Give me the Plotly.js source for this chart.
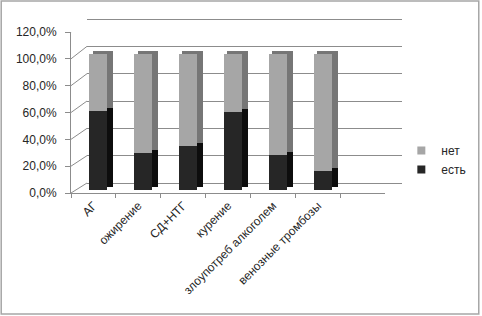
<!DOCTYPE html>
<html><head><meta charset="utf-8">
<script src="https://cdn.plot.ly/plotly-3.0.1.min.js"></script>
<style>html,body{margin:0;padding:0;background:#fff}#chart{width:482px;height:316px}</style>
</head><body><div id="chart"></div>
<script>
// ---- data ----
const categories = ['АГ', 'ожирение', 'СД+НТГ', 'курение', 'злоупотреб алкоголем', 'венозные тромбозы'];
const est = [58.2, 27.5, 32.4, 57.0, 26.0, 14.3];   // "есть", %
const net = [41.8, 72.5, 67.6, 43.0, 74.0, 85.7];   // "нет", %
const yTicks = [0, 20, 40, 60, 80, 100, 120];
const yTickText = ['0,0%', '20,0%', '40,0%', '60,0%', '80,0%', '100,0%', '120,0%'];
const seriesNames = ['есть', 'нет'];

// ---- geometry (pixels) ----
const W = 482, H = 316;
const L = 71, R = 403, T = 12, B = 193;       // plot area
const PW = R - L, PH = B - T;
const frontW = 315;                            // front floor width
const fx = v => v / PW, fy = v => v / PH;

const gridCol = '#8c8c8c';
const colEst = '#262626', colNet = '#a6a6a6';
const font = {family: 'Liberation Sans, Arial, sans-serif', size: 12, color: '#262626'};

const hidden = {visible: false, fixedrange: true};
function dummy(xa, ya) {
  return {type: 'scatter', x: categories, y: categories.map(() => null), xaxis: xa, yaxis: ya,
          mode: 'markers', showlegend: false, hoverinfo: 'skip'};
}
function legendEntry(name, color, group) {
  return {type: 'scatter', name: name, x: categories, y: categories.map(() => null),
          xaxis: 'x4', yaxis: 'y4', mode: 'markers', legendgroup: group, showlegend: true,
          marker: {symbol: 'square', size: 8, color: color}, hoverinfo: 'skip'};
}

const frontBarW = 0.4, sideBarW = 0.46;
const traces = [
  dummy('x', 'y'),
  // depth faces (side + top), offset behind the fronts
  {type: 'bar', x: categories, y: est, xaxis: 'x2', yaxis: 'y2', width: sideBarW,
   marker: {color: '#0d0d0d', line: {width: 0}}, showlegend: false, hoverinfo: 'skip'},
  {type: 'bar', x: categories, y: net, xaxis: 'x2', yaxis: 'y2', width: sideBarW,
   marker: {color: '#767676', line: {width: 0}}, showlegend: false, hoverinfo: 'skip'},
  // front faces
  {type: 'bar', name: seriesNames[0], x: categories, y: est, xaxis: 'x3', yaxis: 'y3', width: frontBarW,
   showlegend: false, marker: {color: colEst, line: {width: 0}}},
  {type: 'bar', name: seriesNames[1], x: categories, y: net, xaxis: 'x3', yaxis: 'y3', width: frontBarW,
   showlegend: false, marker: {color: colNet, line: {width: 0}}},
  dummy('x4', 'y4'),
  legendEntry(seriesNames[1], colNet, 'b'),
  legendEntry(seriesNames[0], colEst, 'a')
];

const xr = [-0.5, 6.5];
const slot = frontW / 7;
const backX0 = 16, backY0 = 10, backTop = 19;     // back wall offset
const barDX = 5, barDY = 3, barTop = 26.8;        // bar plane
const sideDX = 6 - (sideBarW - frontBarW) * slot / 2, sideDY = 3;   // depth faces
const frontTop = 32;

// back wall y scale with a small pad so the edge gridlines are drawn
const backScale = (B - backY0 - backTop) / 120;
const pad = 1;
const backBot = B - backY0 + pad * backScale, backHi = backTop - pad * backScale;

const layout = {
  width: W, height: H,
  margin: {l: L, r: W - R, t: T, b: H - B, pad: 0},
  paper_bgcolor: '#ffffff', plot_bgcolor: 'rgba(0,0,0,0)',
  barmode: 'stack', bargap: 0,
  font: font,
  showlegend: true,
  legend: {x: 0.995, xanchor: 'left', y: fy(B - 136), yanchor: 'top', traceorder: 'normal',
           tracegroupgap: 9, font: font, bgcolor: 'rgba(0,0,0,0)', itemwidth: 30},
  // back wall
  xaxis: Object.assign({}, hidden, {domain: [fx(backX0), 1], range: xr, anchor: 'y'}),
  yaxis: {domain: [fy(B - backBot), fy(B - backHi)], range: [-pad, 120 + pad], anchor: 'x', tickvals: yTicks,
          showgrid: true, gridcolor: gridCol, gridwidth: 1, zeroline: false, showticklabels: false,
          ticks: '', showline: false, fixedrange: true},
  // depth faces
  xaxis2: Object.assign({}, hidden, {domain: [fx(barDX + sideDX), fx(barDX + sideDX + frontW)], range: xr, anchor: 'y2'}),
  yaxis2: Object.assign({}, hidden, {domain: [fy(barDY + sideDY), fy(B - barTop + sideDY)], range: [0, 120], anchor: 'x2'}),
  // fronts
  xaxis3: Object.assign({}, hidden, {domain: [fx(barDX), fx(barDX + frontW)], range: xr, anchor: 'y3'}),
  yaxis3: Object.assign({}, hidden, {domain: [fy(barDY), fy(B - barTop)], range: [0, 120], anchor: 'x3'}),
  // front axes with labels
  xaxis4: {domain: [0, fx(frontW)], range: xr, anchor: 'y4', type: 'category',
           tickson: 'boundaries', ticks: 'outside', ticklen: 4, tickcolor: gridCol,
           showline: true, linecolor: gridCol, linewidth: 1, showgrid: false, zeroline: false,
           tickangle: -45, tickfont: font, fixedrange: true},
  yaxis4: {domain: [0, fy(B - frontTop)], range: [0, 120], anchor: 'x4',
           tickmode: 'array', tickvals: yTicks, ticktext: yTickText,
           ticks: 'outside', ticklen: 5, tickcolor: gridCol,
           showline: true, linecolor: gridCol, linewidth: 1, showgrid: false, zeroline: false,
           tickfont: font, ticklabelstandoff: 6, fixedrange: true},
  shapes: []
};

// left wall diagonals (front axis tick -> back wall gridline)
const frontScale = (B - frontTop) / 120;
yTicks.forEach(v => {
  layout.shapes.push({type: 'line', xref: 'x4', yref: 'y4',
    xsizemode: 'pixel', xanchor: -0.5, x0: 0, x1: backX0,
    ysizemode: 'pixel', yanchor: v, y0: 0, y1: backY0 + v * (backScale - frontScale),
    line: {color: gridCol, width: 1}});
});
// right floor edge
layout.shapes.push({type: 'line', xref: 'x4', yref: 'y4',
  xsizemode: 'pixel', xanchor: 6.5, x0: 0, x1: R - (L + frontW),
  ysizemode: 'pixel', yanchor: 0, y0: 0, y1: backY0,
  line: {color: gridCol, width: 1}});
// last floor tick
layout.shapes.push({type: 'line', xref: 'x4', yref: 'y4',
  xsizemode: 'pixel', xanchor: 6.5, x0: 0, x1: 0,
  ysizemode: 'pixel', yanchor: 0, y0: 0, y1: -4,
  line: {color: gridCol, width: 1}});
// chart-area border
layout.shapes.push({type: 'rect', xref: 'paper', yref: 'paper',
  x0: (1 - L) / PW, x1: (480 - L) / PW, y0: (B - 314) / PH, y1: (B - 1) / PH,
  line: {color: '#a6a6a6', width: 1.5}, fillcolor: 'rgba(0,0,0,0)'});

Plotly.newPlot('chart', traces, layout, {staticPlot: true, displayModeBar: false});
</script></body></html>
